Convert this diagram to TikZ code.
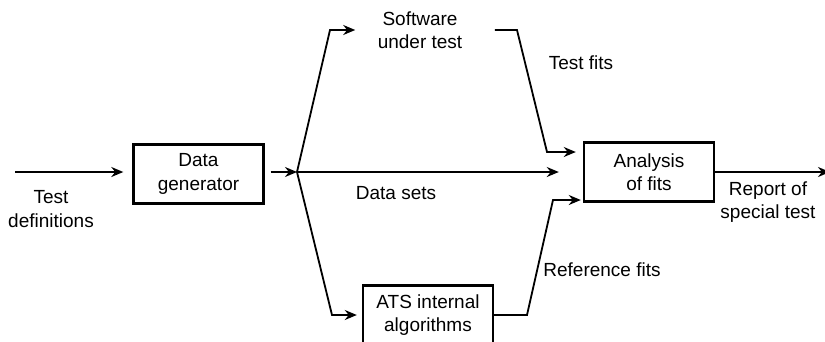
\documentclass[tikz,border=0pt]{standalone}
\usepackage{fontspec}
\setmainfont{Liberation Sans}
\usetikzlibrary{arrows, arrows.meta, positioning}
\tikzset{ % global config
    >={Stealth[length=12pt, width=10pt]}, % bold arrow heads
    every node/.style={font=\fontsize{19}{23.5}\selectfont, align=center}, % text of every label
    block/.style={draw, line width=2.4pt, minimum width=130pt, minimum height=59pt}, % boxed stages
    flow/.style={->, line width=1.8pt}, % directed connectors
}
\begin{document}
\begin{tikzpicture}[x=1pt, y=-1pt]
    \useasboundingbox (0,0) rectangle (825,341);

		\node[block] (gen) at (198.5,174) {Data\\generator};
		\node[block] (ana) at (649,172) {Analysis\\of fits};
		\node[block] (ats) at (428,315) {ATS internal\\algorithms};
		\node (sut) at (420,30) {Software\\under test};

		\node (tdef) at (51,209) {Test\\definitions};
		\node (dsets) at (396,193) {Data sets};
		\node (tfits) at (581,63) {Test fits};
		\node (rfits) at (602,270) {Reference fits};
		\node (report) at (768,202) {Report of\\special test};

		\coordinate (in) at (15,172);
		\coordinate (j) at (297,172);
		\coordinate (out) at (830,172);

		\draw[flow, shorten >=9pt] (in) -- (in -| gen.west);
		\draw[flow, shorten <=6pt] (gen.east |- j) -- (j);
		\draw[flow, shorten >=19pt] (j) -- (330,30) -- (sut.west);
		\draw[flow, shorten >=5pt] (j) -- (332,315) -- (ats.west);
		\draw[flow, shorten >=24pt] (j) -- (ana.west);
		\draw[flow, shorten <=29pt, shorten >=7pt] (sut.east) -- (517,30) -- (547,152) -- ([yshift=20pt]ana.west);
		\draw[flow, shorten >=2pt] (ats.east) -- (527,315) -- (553,200) -- ([yshift=-28pt]ana.west);
		\draw[flow] (ana.east) -- (out);

	\end{tikzpicture}
\end{document}
